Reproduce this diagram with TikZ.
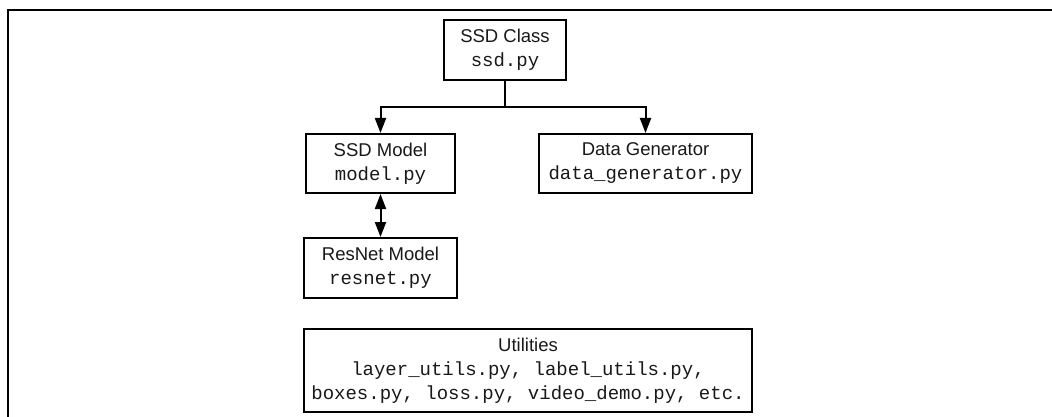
\documentclass[tikz,border=0pt]{standalone}
\usepackage{fontspec}
\setmainfont{Liberation Sans}
\setsansfont{Liberation Sans}
\setmonofont{Liberation Mono}
\usetikzlibrary{arrows.meta}
\newcommand{\hd}[1]{{\fontsize{18.5}{24}\selectfont #1}}
\newcommand{\cd}[1]{{\fontsize{19}{24}\selectfont\ttfamily #1}}
\begin{document}
\begin{tikzpicture}[x=1pt,y=-1pt,
  modbox/.style={draw, line width=2pt, rectangle, inner sep=0pt, align=center,
    font=\fontsize{18.5}{24}\selectfont, text=black!90},
  conn/.style={line width=2pt, -{Triangle[length=15pt,width=11pt]}},
  dconn/.style={line width=2pt, {Triangle[length=15pt,width=11pt]}-{Triangle[length=15pt,width=11pt]}}]
\useasboundingbox (0,0) rectangle (1052,417);
\fill[white] (0,0) rectangle (1052,417);
\draw[line width=2pt] (7.5,417) -- (7.5,10) -- (1052,10);

\node[modbox, minimum width=122pt, minimum height=60pt] (ssd) at (505,50)
  {\hd{SSD Class}\\\cd{ssd.py}};
\node[modbox, minimum width=149pt, minimum height=59pt] (model) at (380.5,163.5)
  {\hd{SSD Model}\\\cd{model.py}};
\node[modbox, minimum width=213pt, minimum height=59pt] (data) at (645.5,163.5)
  {\hd{Data Generator}\\\cd{data\_generator.py}};
\node[modbox, minimum width=153pt, minimum height=60pt] (resnet) at (380.5,268)
  {\hd{ResNet Model}\\\cd{resnet.py}};
\node[modbox, minimum width=448pt, minimum height=83pt] (util) at (528,370.5)
  {\hd{Utilities}\\\cd{layer\_utils.py, label\_utils.py,}\\\cd{boxes.py, loss.py, video\_demo.py, etc.}};

\draw[line width=2pt] (ssd.south) -- ++(0,26) coordinate (j);
\draw[conn] (j) -| (model.north);
\draw[conn] (j) -| (data.north);
\draw[dconn] (model.south) -- (resnet.north);
\end{tikzpicture}
\end{document}
